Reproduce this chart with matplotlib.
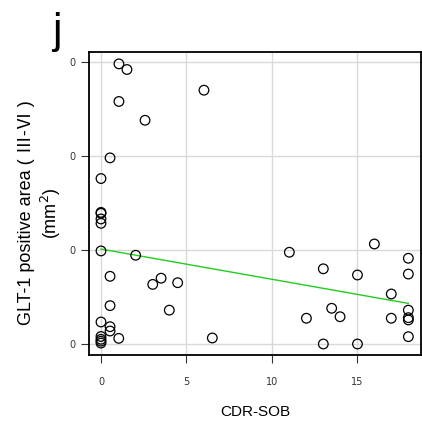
import matplotlib
matplotlib.use("Agg")
import matplotlib.pyplot as plt

# CDR-SOB score vs GLT-1 positive area
cdr_sob = [1.05, 1.52, 1.05, 2.58, 6.03, 0.53, 0.0,
           0.0, 0.0, 0.0, 0.0,
           0.0, 2.03, 0.53, 3.03, 3.52, 4.49, 4.0, 0.53,
           0.0, 0.53, 0.53, 1.04, 0.0, 0.0, 0.0, 0.0, 6.52,
           11.03, 16.01, 13.02, 15.02, 18.0, 18.0, 17.0,
           13.51, 12.03, 14.0, 17.0, 18.0, 18.0, 18.0, 18.0,
           13.02, 15.02]
glt1_area = [149, 146, 129, 119, 135, 99, 88,
             70, 69.5, 66.5, 64.2,
             49.5, 47.2, 36, 31.7, 35, 32.6, 18, 20.4,
             11.7, 9.2, 6.9, 3, 4, 2.5, 1.5, 0.5, 3.2,
             48.8, 53.2, 40, 36.7, 45.6, 37.2, 26.6,
             19, 13.7, 14.5, 13.7, 18, 14, 12.8, 3.9,
             0, 0]

# regression line end points
fit_x = [0, 18]
fit_y = [50.5, 21.6]

x_ticks = [0, 5, 10, 15]
x_tick_labels = ["0", "5", "10", "15"]
y_ticks = [0, 50, 100, 150]
y_tick_labels = ["0", "0", "0", "0"]

fig = plt.figure(figsize=(4.22, 4.23), dpi=100)
ax = fig.add_axes([0.211, 0.161, 0.787, 0.716])

ax.grid(True, color="#d9d9d9", linewidth=1.0)
ax.set_axisbelow(True)

ax.scatter(cdr_sob, glt1_area, s=48, facecolors="none", edgecolors="black",
           linewidths=0.9, zorder=3)
ax.plot(fit_x, fit_y, color="#22cc22", linewidth=1.0, zorder=2)

ax.set_xlim(-0.7, 18.75)
ax.set_ylim(-5.8, 155.3)
ax.set_xticks(x_ticks)
ax.set_xticklabels(x_tick_labels)
ax.set_yticks(y_ticks)
ax.set_yticklabels(y_tick_labels)
ax.tick_params(axis="both", labelsize=7, colors="#333333", length=6, width=0.8,
               labelcolor="#333333")
ax.tick_params(axis="x", pad=10)

for side in ["left", "bottom", "top", "right"]:
    ax.spines[side].set_linewidth(1.3)
    ax.spines[side].set_color("black")

fam = ["Liberation Sans", "Noto Sans CJK JP", "DejaVu Sans"]
ax.set_xlabel("CDR-SOB", fontsize=11, family=fam, labelpad=13)
fig.text(0.096, 0.497, "GLT-1 positive area ( Ⅲ-Ⅵ )\n(mm$^2$)", fontsize=13,
         family=fam, rotation=90, ha="center", va="center",
         multialignment="center", linespacing=1.2)

fig.text(0.135, 0.972, "j", fontsize=31, family=fam, ha="center", va="top")

fig.savefig("out.png", dpi=100)
